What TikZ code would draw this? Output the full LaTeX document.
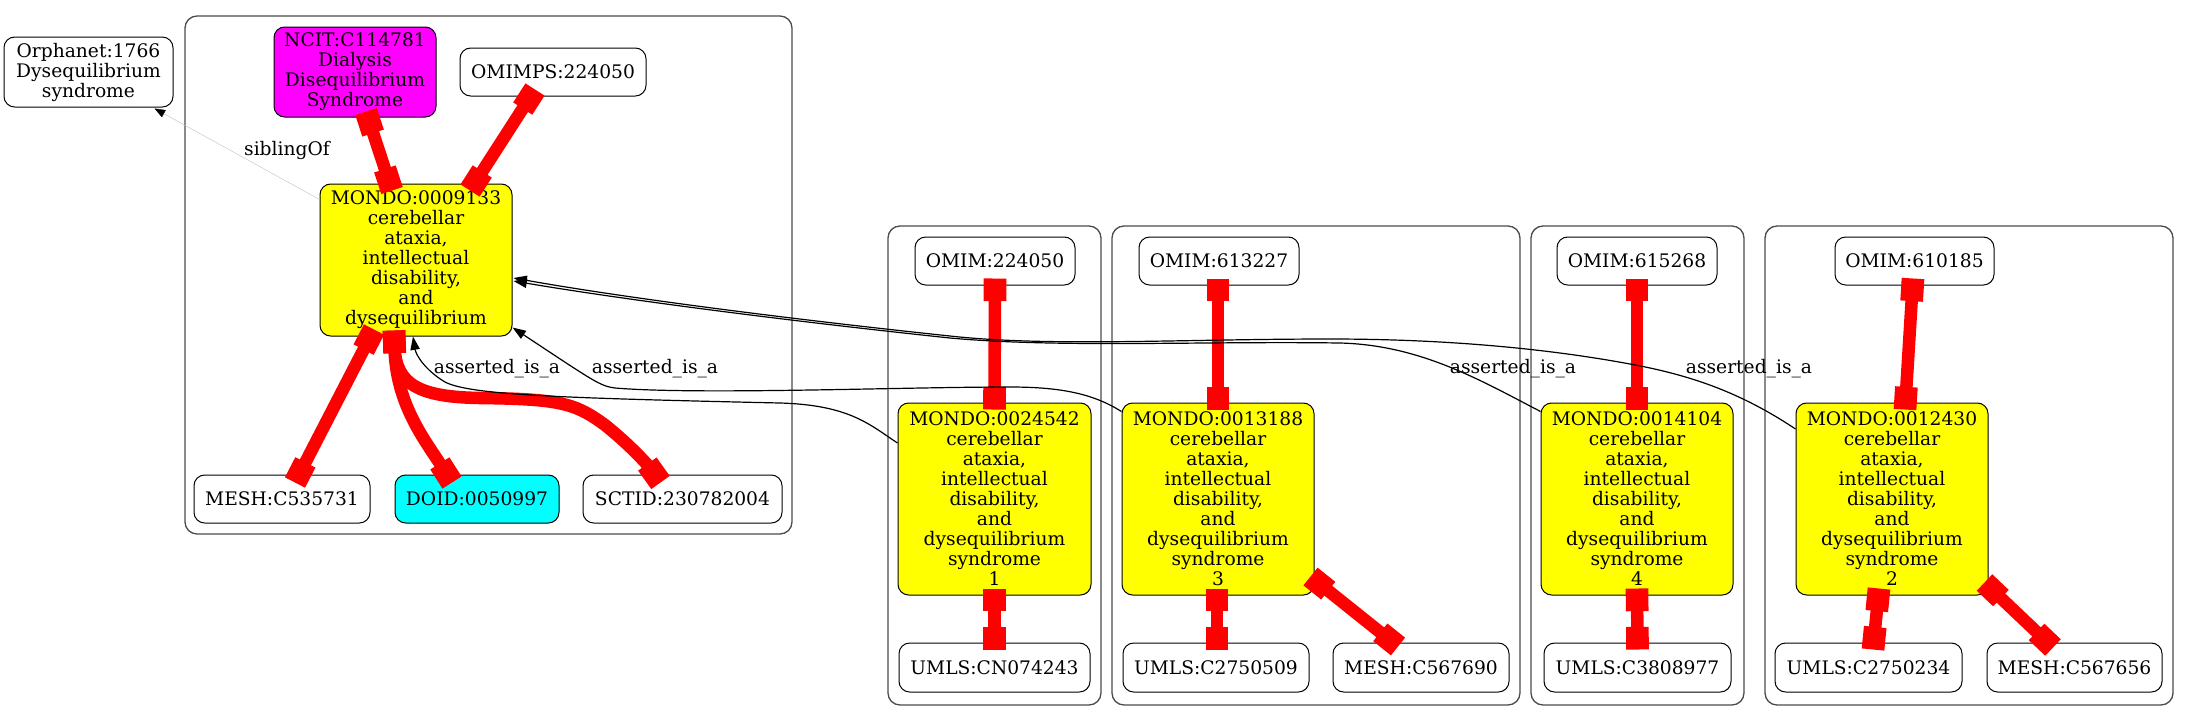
\documentclass[tikz,border=0pt]{standalone}
\usepackage{fontspec}
\setmainfont{DejaVu Serif}
\usetikzlibrary{arrows.meta,calc}
\definecolor{gvyellow}{RGB}{255,255,0}
\definecolor{gvcyan}{RGB}{0,255,255}
\definecolor{gvmagenta}{RGB}{255,0,255}
\definecolor{gvred}{RGB}{255,0,0}
\tikzset{
  nd/.style={draw=black, line width=0.75pt, rounded corners=8pt, align=center, inner sep=0pt,
             font=\fontsize{14}{15}\selectfont, fill=white},
  sz/.style 2 args={minimum width=#1*0.75pt, minimum height=#2*0.75pt},
  cl/.style={draw=black!70, line width=1pt, rounded corners=9pt},
  rl/.style={draw=gvred, line width=9.4pt, {Square[length=17pt,width=17pt]}-{Square[length=17pt,width=17pt]}},
  isa/.style={draw=black, line width=0.9pt, -{Triangle[length=10pt,width=7pt]}},
  sib/.style={draw=black!25, line width=0.3pt, -{Triangle[length=8pt,width=6pt,fill=black,color=black]}},
  lbl/.style={font=\fontsize{14}{15}\selectfont, inner sep=0pt},
}
\begin{document}
\begin{tikzpicture}[x=0.75pt,y=-0.75pt]
\useasboundingbox (0,0) rectangle (2189,719);
% clusters
\draw[cl] (185,16) rectangle (792,534);
\draw[cl] (888,226) rectangle (1101,705);
\draw[cl] (1112,226) rectangle (1520,705);
\draw[cl] (1531,226) rectangle (1744,705);
\draw[cl] (1765,226) rectangle (2173,705);
% nodes
\node[nd,sz={169}{70}] (orph) at (88.5,72) {Orphanet:1766\\Dysequilibrium\\syndrome};
\node[nd,sz={162}{90},fill=gvmagenta] (ncit) at (355,72) {NCIT:C114781\\Dialysis\\Disequilibrium\\Syndrome};
\node[nd,sz={186}{48}] (omimps) at (553,72) {OMIMPS:224050};
\node[nd,sz={192}{152},fill=gvyellow] (m0) at (416,260) {MONDO:0009133\\cerebellar\\ataxia,\\intellectual\\disability,\\and\\dysequilibrium};
\node[nd,sz={176}{48}] (mesh0) at (282,499) {MESH:C535731};
\node[nd,sz={164}{48},fill=gvcyan] (doid) at (477,499) {DOID:0050997};
\node[nd,sz={199}{48}] (sct) at (682.5,499) {SCTID:230782004};
\node[nd,sz={160}{48}] (omim1) at (995,261) {OMIM:224050};
\node[nd,sz={193}{192},fill=gvyellow] (m1) at (994.5,499) {MONDO:0024542\\cerebellar\\ataxia,\\intellectual\\disability,\\and\\dysequilibrium\\syndrome\\1};
\node[nd,sz={191}{49}] (umls1) at (994.5,667.5) {UMLS:CN074243};
\node[nd,sz={160}{48}] (omim3) at (1219,261) {OMIM:613227};
\node[nd,sz={192}{192},fill=gvyellow] (m3) at (1218,499) {MONDO:0013188\\cerebellar\\ataxia,\\intellectual\\disability,\\and\\dysequilibrium\\syndrome\\3};
\node[nd,sz={186}{49}] (umls3) at (1216,667.5) {UMLS:C2750509};
\node[nd,sz={176}{49}] (mesh3) at (1421,667.5) {MESH:C567690};
\node[nd,sz={160}{48}] (omim4) at (1637,261) {OMIM:615268};
\node[nd,sz={192}{192},fill=gvyellow] (m4) at (1637,499) {MONDO:0014104\\cerebellar\\ataxia,\\intellectual\\disability,\\and\\dysequilibrium\\syndrome\\4};
\node[nd,sz={187}{49}] (umls4) at (1637.5,667.5) {UMLS:C3808977};
\node[nd,sz={159}{48}] (omim2) at (1914.5,261) {OMIM:610185};
\node[nd,sz={192}{192},fill=gvyellow] (m2) at (1892,499) {MONDO:0012430\\cerebellar\\ataxia,\\intellectual\\disability,\\and\\dysequilibrium\\syndrome\\2};
\node[nd,sz={187}{49}] (umls2) at (1868.5,667.5) {UMLS:C2750234};
\node[nd,sz={175}{49}] (mesh2) at (2074.5,667.5) {MESH:C567656};
% red edges
\draw[rl] ($(ncit.south)+(11,-6)$) -- ($(m0.north)+(-24,7)$);
\draw[rl] ($(omimps.south)+(-18,-7)$) -- ($(m0.north)+(54,7)$);
\draw[rl] ($(m0.south)+(-42,-7)$) -- ($(mesh0.north)+(13,8)$);
\draw[rl] ($(m0.south)+(-22,-6)$) .. controls (396,405) and (425,440) .. ($(doid.north)+(-25,8)$);
\draw[rl] ($(m0.south)+(-22,-6)$) .. controls (396,385) and (420,397) .. (480,398) .. controls (560,399) and (575,403) .. (605,425) .. controls (630,445) and (648,465) .. ($(sct.north)+(-22,8)$);
\draw[rl] ($(omim1.south)+(0,-7)$) -- ($(m1.north)+(0,7)$);
\draw[rl] ($(m1.south)+(0,-7)$) -- ($(umls1.north)+(0,7)$);
\draw[rl] ($(omim3.south)+(-1,-7)$) -- ($(m3.north)+(0,7)$);
\draw[rl] ($(m3.south)+(-1,-7)$) -- ($(umls3.north)+(1,7)$);
\draw[rl] ($(m3.south east)+(-4,-19)$) -- ($(mesh3.north)+(-23,4)$);
\draw[rl] ($(omim4.south)+(0,-7)$) -- ($(m4.north)+(0,7)$);
\draw[rl] ($(m4.south)+(0,-7)$) -- ($(umls4.north)+(0,7)$);
\draw[rl] ($(omim2.south)+(-1.5,-7)$) -- ($(m2.north)+(13,7)$);
\draw[rl] ($(m2.south)+(-13,-7)$) -- ($(umls2.north)+(4.5,7)$);
\draw[rl] ($(m2.south east)+(-4,-13)$) -- ($(mesh2.north)+(-21.5,5)$);
% asserted_is_a edges
\draw[isa] ($(m1.west)+(0,-56)$) .. controls (870,425) and (850,405) .. (780,403) .. controls (560,398) and (470,395) .. (445,382) .. controls (425,370) and (416,355) .. ($(m0.south)+(-3,0)$);
\draw[isa] ($(m3.north west)+(0,9)$) .. controls (1095,395) and (1065,387) .. (1010,387) .. controls (900,387) and (700,395) .. (615,388) .. controls (600,386) and (595,382) .. ($(m0.south east)+(0,-9)$);
\draw[isa] ($(m4.north west)+(0,9)$) .. controls (1480,380) and (1420,345) .. (1340,343) .. controls (1200,341) and (1060,348) .. (950,338) .. controls (780,320) and (620,299) .. ($(m0.east)+(1,21)$);
\draw[isa] ($(m2.west)+(0,-70)$) .. controls (1740,392) and (1690,375) .. (1630,364) .. controls (1560,351) and (1460,339) .. (1330,339) .. controls (1180,339) and (1050,347) .. (950,336) .. controls (780,318) and (620,297) .. ($(m0.east)+(1,18)$);
% siblingOf
\draw[sib] ($(m0.north west)+(0,16)$) -- ($(orph.south east)+(-19,1)$);
% labels
\node[lbl] (l0) at (287,150) {siblingOf};
\node[lbl] (l1) at (497,369) {asserted\_is\_a};
\node[lbl] (l2) at (655,369) {asserted\_is\_a};
\node[lbl] (l3) at (1513,369) {asserted\_is\_a};
\node[lbl] (l4) at (1749,369) {asserted\_is\_a};
\end{tikzpicture}
\end{document}
